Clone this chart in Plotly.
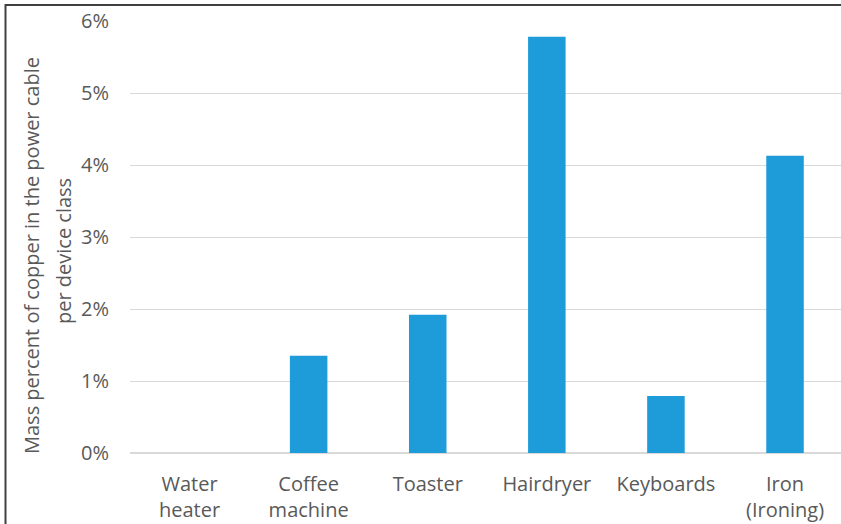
import plotly.graph_objects as go

categories = ["Water<br>heater", "Coffee<br>machine", "Toaster", "Hairdryer", "Keyboards", "Iron<br>(Ironing)"]
values = [0.0, 0.0135, 0.0192, 0.0578, 0.0079, 0.0413]
y_ticks = [0, 0.01, 0.02, 0.03, 0.04, 0.05, 0.06]
y_tick_labels = ["0%", "1%", "2%", "3%", "4%", "5%", "6%"]
y_title_lines = ["Mass percent of copper in the power cable", "per device class"]

W, H = 841, 524
ml, mr, mt, mb = 130, 0, 21, 71
pw, ph = W - ml - mr, H - mt - mb

fig = go.Figure(go.Bar(
    x=categories, y=values,
    marker=dict(color="#1E9CD9", line=dict(width=0)),
    width=0.315,
))

font_family = "Open Sans, Noto Sans, sans-serif"
fs = 20
fig.update_layout(
    width=W, height=H,
    margin=dict(l=ml, r=mr, t=mt, b=mb, pad=0),
    paper_bgcolor="white", plot_bgcolor="white",
    showlegend=False,
    font=dict(family=font_family, size=fs, color="#595959"),
    xaxis=dict(
        range=[-0.5, 5.47],
        showgrid=False, showline=False, zeroline=False,
        ticks="", ticklabelstandoff=17,
        tickfont=dict(size=fs, color="#595959"),
    ),
    yaxis=dict(
        range=[0, 0.06],
        tickvals=y_ticks, ticktext=y_tick_labels,
        showgrid=True, gridcolor="#D9D9D9", gridwidth=1,
        zeroline=True, zerolinecolor="#D9D9D9", zerolinewidth=2,
        showline=False, ticks="", ticklabelstandoff=20,
        tickfont=dict(size=fs, color="#595959"),
    ),
    annotations=[
        dict(
            text=y_title_lines[0],
            xref="paper", yref="paper",
            x=(31 - ml) / pw, y=1 - (256 - mt) / ph,
            xanchor="center", yanchor="middle",
            textangle=-90, showarrow=False,
            font=dict(size=fs, color="#595959", family=font_family),
        ),
        dict(
            text=y_title_lines[1],
            xref="paper", yref="paper",
            x=(63 - ml) / pw, y=1 - (251 - mt) / ph,
            xanchor="center", yanchor="middle",
            textangle=-90, showarrow=False,
            font=dict(size=fs, color="#595959", family=font_family),
        ),
    ],
    shapes=[
        dict(type="line", xref="paper", yref="paper",
             x0=(5 - ml) / pw, x1=(W + 5 - ml) / pw,
             y0=1 + (mt - 5) / ph, y1=1 + (mt - 5) / ph,
             line=dict(color="#404040", width=2)),
        dict(type="line", xref="paper", yref="paper",
             x0=(5.5 - ml) / pw, x1=(5.5 - ml) / pw,
             y0=1 + (mt - 4) / ph, y1=-(H + 5 - mt - ph) / ph,
             line=dict(color="#404040", width=2)),
    ],
)

fig.write_html("out.html")
